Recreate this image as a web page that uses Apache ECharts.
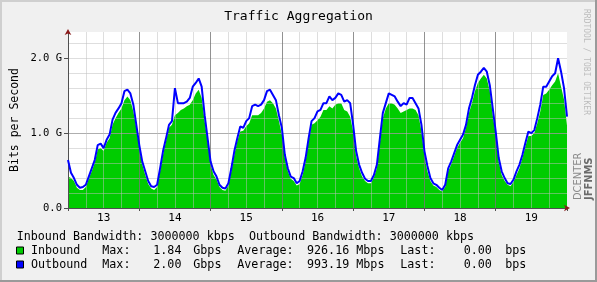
<!DOCTYPE html>
<html><head><meta charset="utf-8">
<script src="https://cdn.jsdelivr.net/npm/echarts@6/dist/echarts.min.js"></script>
<style>html,body{margin:0;padding:0;background:#f0f0f0}#c{width:597px;height:282px}</style>
</head><body><div id="c"></div>
<script>
// ---- data (hourly samples, 13th 00:00 .. 20th 00:00), values in Gbit/s ----
const dayLabels = ['13', '14', '15', '16', '17', '18', '19'];
const yTickLabels = ['0.0', '1.0 G', '2.0 G'];
const inbound = [
  0.42,0.40,0.36,0.27,0.24,0.24,0.28,0.39,0.49,0.60,0.78,0.80,0.76,0.87,0.93,1.11,1.20,1.27,1.33,1.44,1.49,1.44,1.29,1.07,
  0.80,0.58,0.44,0.32,0.26,0.24,0.28,0.49,0.71,0.89,1.07,1.11,1.24,1.27,1.31,1.33,1.36,1.38,1.44,1.53,1.58,1.47,1.16,0.89,
  0.58,0.44,0.38,0.28,0.24,0.23,0.30,0.49,0.71,0.89,1.02,1.03,1.09,1.13,1.24,1.24,1.24,1.27,1.33,1.42,1.44,1.40,1.33,1.16,
  0.98,0.67,0.49,0.39,0.36,0.30,0.32,0.44,0.62,0.89,1.11,1.13,1.17,1.22,1.31,1.31,1.36,1.33,1.38,1.40,1.40,1.31,1.29,1.22,
  1.02,0.69,0.53,0.42,0.36,0.33,0.33,0.41,0.53,0.87,1.20,1.33,1.40,1.40,1.38,1.33,1.27,1.29,1.31,1.33,1.33,1.31,1.24,1.02,
  0.69,0.49,0.36,0.30,0.28,0.24,0.22,0.28,0.49,0.58,0.69,0.80,0.87,0.93,1.07,1.27,1.40,1.56,1.67,1.73,1.78,1.73,1.56,1.24,
  0.98,0.62,0.44,0.36,0.31,0.29,0.35,0.44,0.53,0.67,0.82,0.96,0.96,1.00,1.13,1.29,1.51,1.53,1.58,1.64,1.69,1.80,1.62,1.45,
  1.10
];
const outbound = [
  0.64,0.47,0.40,0.31,0.27,0.28,0.31,0.42,0.53,0.64,0.84,0.86,0.80,0.91,0.98,1.18,1.27,1.33,1.40,1.56,1.58,1.53,1.38,1.11,
  0.84,0.62,0.49,0.36,0.29,0.28,0.31,0.53,0.76,0.93,1.11,1.16,1.60,1.40,1.40,1.40,1.42,1.47,1.62,1.67,1.73,1.62,1.24,0.93,
  0.62,0.49,0.42,0.31,0.27,0.26,0.33,0.53,0.76,0.93,1.09,1.07,1.16,1.20,1.36,1.38,1.36,1.38,1.44,1.56,1.58,1.51,1.44,1.24,
  1.07,0.71,0.53,0.42,0.40,0.33,0.36,0.49,0.67,0.93,1.16,1.20,1.29,1.31,1.40,1.40,1.49,1.44,1.47,1.53,1.51,1.42,1.44,1.40,
  1.11,0.76,0.58,0.47,0.39,0.36,0.36,0.44,0.58,0.93,1.27,1.40,1.53,1.51,1.49,1.42,1.36,1.40,1.38,1.47,1.47,1.40,1.33,1.11,
  0.76,0.56,0.40,0.33,0.31,0.27,0.24,0.31,0.53,0.62,0.73,0.84,0.91,0.98,1.11,1.33,1.47,1.64,1.78,1.82,1.87,1.82,1.64,1.33,
  1.02,0.67,0.49,0.40,0.33,0.32,0.38,0.49,0.58,0.71,0.87,1.02,1.00,1.04,1.20,1.38,1.62,1.62,1.69,1.76,1.80,2.00,1.82,1.60,
  1.22
];
const seriesNames = ['Inbound', 'Outbound'];
const maxVals = ['1.84', '2.00'];
const maxUnits = ['Gbps', 'Gbps'];
const avgVals = ['926.16', '993.19'];
const avgUnits = ['Mbps', 'Mbps'];
const lastVals = ['0.00', '0.00'];
const lastUnits = ['bps', 'bps'];
const bandwidthLine = 'Inbound Bandwidth: 3000000 kbps  Outbound Bandwidth: 3000000 kbps';
const titleText = 'Traffic Aggregation';
const yName = 'Bits per Second';

// ---- chart ----
const MONO = '"DejaVu Sans Mono", monospace';
const GREEN = '#00CC00', BLUE = '#0000FF';
const toPairs = arr => arr.map((v, i) => [i, v]);
const chart = echarts.init(document.getElementById('c'), null, {renderer: 'canvas'});

const legendText = (t, x, y) => ({type: 'text', x: x, y: y, style: {text: t, font: '11.7px ' + MONO, fill: '#000', verticalAlign: 'middle'}});
const graphics = [
  {type: 'rect', shape: {x: 0, y: 0, width: 597, height: 2}, style: {fill: '#cfcfcf'}},
  {type: 'rect', shape: {x: 0, y: 0, width: 2, height: 282}, style: {fill: '#cfcfcf'}},
  {type: 'rect', shape: {x: 0, y: 280, width: 597, height: 2}, style: {fill: '#9a9a9a'}},
  {type: 'rect', shape: {x: 595, y: 0, width: 2, height: 282}, style: {fill: '#9a9a9a'}},
  {type: 'text', x: 298.5, y: 16.5, style: {text: titleText, font: '13px ' + MONO, fill: '#000', align: 'center', verticalAlign: 'middle'}},
  {type: 'text', x: 15, y: 120, rotation: Math.PI / 2, style: {text: yName, font: '11.5px ' + MONO, fill: '#000', align: 'center', verticalAlign: 'middle'}},
  {type: 'text', x: 586.5, y: 62, rotation: -Math.PI / 2, style: {text: 'RRDTOOL / TOBI OETIKER', font: '8px ' + MONO, fill: '#bdbdbd', align: 'center', verticalAlign: 'middle'}},
  {type: 'text', x: 578.5, y: 200, rotation: Math.PI / 2, style: {text: 'DCENTER', font: '11px "DejaVu Sans Condensed", sans-serif', fill: '#8a8a8a', align: 'left', verticalAlign: 'middle'}},
  {type: 'text', x: 589, y: 200, rotation: Math.PI / 2, style: {text: 'JFFNMS', font: 'bold 11px "DejaVu Sans Condensed", sans-serif', fill: '#6a6a6a', align: 'left', verticalAlign: 'middle'}},
  legendText(bandwidthLine, 16.7, 236.7)
];
const rowY = [250.5, 264.5];
const colors = [GREEN, BLUE];
for (let r = 0; r < 2; r++) {
  const y = rowY[r];
  graphics.push({type: 'rect', shape: {x: 16.5, y: y - 3.5, width: 7, height: 7}, style: {fill: colors[r], stroke: '#000', lineWidth: 1}});
  graphics.push(legendText(seriesNames[r], 31, y));
  graphics.push(legendText('Max:', 102.3, y));
  graphics.push(legendText(maxVals[r], 153.3, y));
  graphics.push(legendText(maxUnits[r], 193.3, y));
  graphics.push(legendText('Average:', 237.3, y));
  graphics.push(legendText(avgVals[r], 307, y));
  graphics.push(legendText(avgUnits[r], 356.3, y));
  graphics.push(legendText('Last:', 400.3, y));
  graphics.push(legendText(lastVals[r], 463.7, y));
  graphics.push(legendText(lastUnits[r], 505.3, y));
}

const MINOR = 'rgba(190,190,190,0.5)';
const MAJOR = 'rgba(95,95,95,0.6)';
const AXIS = '#505050';
const ARROW = '#8b1a1a';
const YMAX = 2.35;

chart.setOption({
  backgroundColor: '#f0f0f0',
  animation: false,
  grid: {left: 68, top: 32, right: 30, bottom: 74, show: true, backgroundColor: '#ffffff', borderWidth: 0},
  xAxis: [
    {
      type: 'value', position: 'bottom', min: 0, max: 168, interval: 6, z: 3,
      axisLine: {show: true, onZero: false, lineStyle: {color: AXIS, width: 1}},
      axisTick: {show: false},
      axisLabel: {
        show: true, margin: 5, color: '#000', fontFamily: MONO, fontSize: 11,
        formatter: v => (v % 24 === 12 ? dayLabels[(v - 12) / 24] : '')
      },
      splitLine: {show: true, showMinLine: false, showMaxLine: false, lineStyle: {color: MINOR, width: 1}}
    },
    {
      type: 'value', position: 'bottom', min: 0, max: 168, interval: 24, z: 3,
      axisLine: {show: true, onZero: false, symbol: ['none', 'arrow'], symbolSize: [5, 6], symbolOffset: [0, 3], lineStyle: {color: ARROW, width: 0}},
      axisTick: {show: true, length: 3, lineStyle: {color: AXIS}},
      axisLabel: {show: false},
      splitLine: {show: true, showMinLine: false, showMaxLine: false, lineStyle: {color: MAJOR, width: 1}}
    }
  ],
  yAxis: [
    {
      type: 'value', position: 'left', min: 0, max: YMAX, interval: 1, z: 3,
      axisLine: {show: true, onZero: false, lineStyle: {color: AXIS, width: 1}},
      axisTick: {show: true, length: 4, lineStyle: {color: AXIS}, customValues: [0, 1, 2]},
      axisLabel: {
        show: true, margin: 6, color: '#000', fontFamily: MONO, fontSize: 10.5, customValues: [0, 1, 2],
        formatter: v => (Math.abs(v - Math.round(v)) < 1e-6 && v <= 2 ? yTickLabels[Math.round(v)] : '')
      },
      splitLine: {show: true, showMinLine: false, showMaxLine: false, lineStyle: {color: MAJOR, width: 1}}
    },
    {
      type: 'value', position: 'left', min: 0, max: YMAX, interval: 0.2, z: 3,
      axisLine: {show: true, onZero: false, symbol: ['none', 'arrow'], symbolSize: [5, 6], symbolOffset: [0, 3], lineStyle: {color: ARROW, width: 0}},
      axisTick: {show: false},
      axisLabel: {show: false},
      splitLine: {show: true, showMinLine: false, showMaxLine: false, lineStyle: {color: MINOR, width: 1}}
    }
  ],
  series: [
    {
      name: 'Inbound', type: 'line', xAxisIndex: 0, yAxisIndex: 0, z: 2,
      data: toPairs(inbound), showSymbol: false, symbol: 'none',
      lineStyle: {width: 0, color: GREEN}, areaStyle: {color: GREEN, opacity: 1}
    },
    {
      name: 'Outbound', type: 'line', xAxisIndex: 0, yAxisIndex: 0, z: 4,
      data: toPairs(outbound), showSymbol: false, symbol: 'none',
      lineStyle: {width: 2, color: BLUE}
    }
  ],
  graphic: graphics
});
</script></body></html>
